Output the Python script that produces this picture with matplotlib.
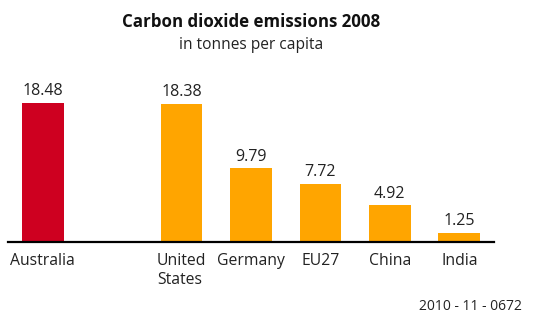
import matplotlib.pyplot as plt

# data
countries = ['Australia', 'United\nStates', 'Germany', 'EU27', 'China', 'India']
positions = [0, 2, 3, 4, 5, 6]
emissions = [18.48, 18.38, 9.79, 7.72, 4.92, 1.25]
colors = ['#CE0020', '#FFA500', '#FFA500', '#FFA500', '#FFA500', '#FFA500']

plt.rcParams['font.family'] = ['Open Sans', 'DejaVu Sans']

fig = plt.figure(figsize=(5.44, 3.14), dpi=100)
ax = fig.add_axes([8 / 544, 72 / 314, 486 / 544, 162 / 314])

ax.bar(positions, emissions, width=0.6, color=colors)
for x, v in zip(positions, emissions):
    ax.text(x, v + 0.45, f'{v:.2f}', ha='center', va='bottom', fontsize=11.5, color='#222222')

ax.set_xlim(-0.5, 6.5)
ax.set_ylim(0, 21.5)
ax.set_xticks(positions)
ax.set_xticklabels(countries, fontsize=11.3, color='#222222', multialignment='left', va='top')
ax.tick_params(axis='x', length=0, pad=8)
ax.set_yticks([])
for s in ['top', 'left', 'right']:
    ax.spines[s].set_visible(False)
ax.spines['bottom'].set_linewidth(1.6)

fig.text(251 / 544, 1 - 22 / 314, 'Carbon dioxide emissions 2008', ha='center', va='center',
         fontsize=12.2, fontweight='bold', color='#111111')
fig.text(251 / 544, 1 - 45 / 314, 'in tonnes per capita', ha='center', va='center',
         fontsize=11.2, color='#222222')
fig.text(522 / 544, 1 - 306 / 314, '2010 - 11 - 0672', ha='right', va='center',
         fontsize=10, color='#222222')

fig.savefig('out.png', dpi=100)
